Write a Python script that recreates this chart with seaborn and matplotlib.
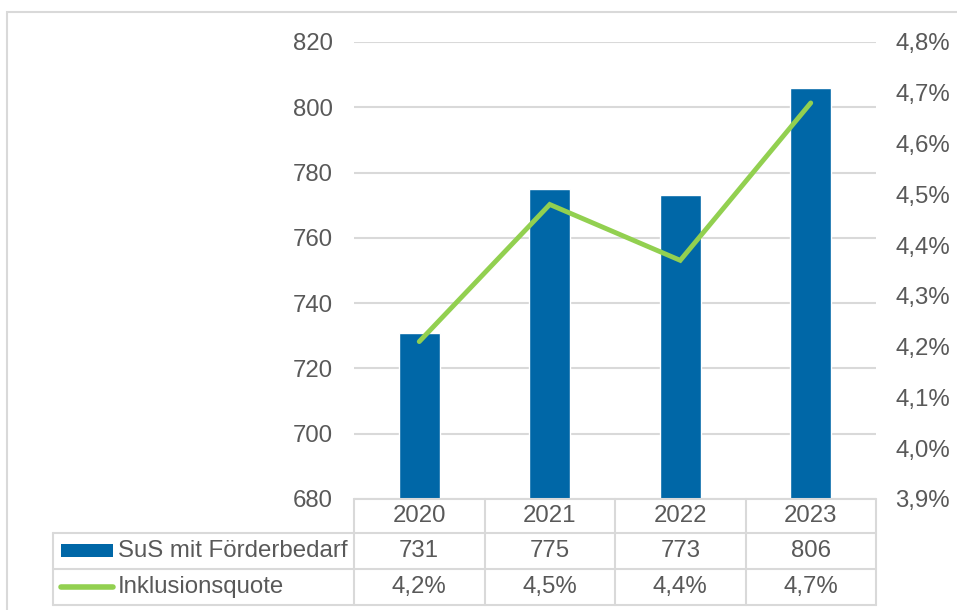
import matplotlib
matplotlib.use("Agg")
import matplotlib.pyplot as plt
import matplotlib.transforms as mtransforms
from matplotlib.lines import Line2D
from matplotlib.patches import Rectangle
import seaborn as sns
import numpy as np
import pandas as pd

# data
years = ["2020", "2021", "2022", "2023"]
sus = [731, 775, 773, 806]
quote = [4.21, 4.48, 4.37, 4.68]
series_names = ["SuS mit Förderbedarf", "Inklusionsquote"]

left_ticks = [680, 700, 720, 740, 760, 780, 800, 820]
right_ticks = [3.9, 4.0, 4.1, 4.2, 4.3, 4.4, 4.5, 4.6, 4.7, 4.8]

BLUE = "#0067a7"
GREEN = "#92d050"
TEXT = "#595959"
GRID = "#d9d9d9"
W, H = 957, 610
FS = 17.3


def de(v, digits=1):
    return f"{v:.{digits}f}".replace(".", ",")


def fx(px):
    return px / W


def fy(py):
    return 1 - py / H


sns.set_theme(style="white")
plt.rcParams["font.family"] = ["Liberation Sans", "DejaVu Sans"]

fig = plt.figure(figsize=(W / 100, H / 100), dpi=100)
ax = fig.add_axes([fx(354), fy(499), fx(876) - fx(354), fy(42) - fy(499)])

df = pd.DataFrame({"year": years, "sus": sus})
sns.barplot(data=df, x="year", y="sus", color=BLUE, saturation=1, width=0.314, ax=ax, zorder=3)
ax.set_ylim(680, 820)
ax.set_xlim(-0.5, len(years) - 0.5)
ax.set_yticks(left_ticks)
ax.set_yticklabels([str(t) for t in left_ticks], fontsize=FS, color=TEXT)
ax.set_xticks([])
ax.set_xlabel("")
ax.set_ylabel("")
ax.tick_params(axis="y", length=0, pad=15)
ax.grid(axis="y", color=GRID, lw=1.5, zorder=0)
for s in ax.spines.values():
    s.set_visible(False)

ax2 = ax.twinx()
sns.lineplot(x=np.arange(len(years)), y=quote, color=GREEN, lw=3.5, ax=ax2,
             solid_capstyle="round", solid_joinstyle="miter")
ax2.set_ylim(3.9, 4.8)
ax2.set_yticks(right_ticks)
ax2.set_yticklabels([de(t) + "%" for t in right_ticks], fontsize=FS, color=TEXT)
ax2.tick_params(axis="y", length=0, pad=14)
ax2.set_xlim(-0.5, len(years) - 0.5)
for s in ax2.spines.values():
    s.set_visible(False)

# outer frame
fig.add_artist(Rectangle((fx(7), fy(H + 10)), 1.2, fy(12) - fy(H + 10), transform=fig.transFigure,
                         fill=False, ec=GRID, lw=1.5))

# data table below the plot
row_lines = [499, 533, 569, 605]
x_left, x_plot, x_right = 53, 354, 876
col_w = (x_right - x_plot) / len(years)


def hline(x0, x1, y):
    fig.add_artist(Line2D([fx(x0), fx(x1)], [fy(y), fy(y)], transform=fig.transFigure, color=GRID, lw=1.5))


def vline(x, y0, y1):
    fig.add_artist(Line2D([fx(x), fx(x)], [fy(y0), fy(y1)], transform=fig.transFigure, color=GRID, lw=1.5))


hline(x_plot, x_right, row_lines[0])
for y in row_lines[1:]:
    hline(x_left, x_right, y)
vline(x_left, row_lines[1], row_lines[3])
for i in range(len(years) + 1):
    vline(x_plot + i * col_w, row_lines[0], row_lines[3])

trans = mtransforms.blended_transform_factory(ax.transData, fig.transFigure)
rows = [years, [str(v) for v in sus], [de(q) + "%" for q in quote]]
for r, labels in enumerate(rows):
    yc = fy((row_lines[r] + row_lines[r + 1]) / 2)
    for i, lab in enumerate(labels):
        ax.text(i, yc, lab, transform=trans, ha="center", va="center", fontsize=FS, color=TEXT, clip_on=False)

# row headers with legend keys
y1 = (row_lines[1] + row_lines[2]) / 2
y2 = (row_lines[2] + row_lines[3]) / 2
fig.add_artist(Rectangle((fx(61), fy(557)), fx(113) - fx(61), fy(544) - fy(557),
                         transform=fig.transFigure, color=BLUE, lw=0))
fig.add_artist(Line2D([fx(61), fx(113)], [fy(y2), fy(y2)], transform=fig.transFigure,
                      color=GREEN, lw=4, solid_capstyle="round"))
fig.text(fx(118), fy(y1), series_names[0], ha="left", va="center", fontsize=FS, color=TEXT)
fig.text(fx(118), fy(y2), series_names[1], ha="left", va="center", fontsize=FS, color=TEXT)

fig.savefig("out.png", dpi=100, facecolor="white")
